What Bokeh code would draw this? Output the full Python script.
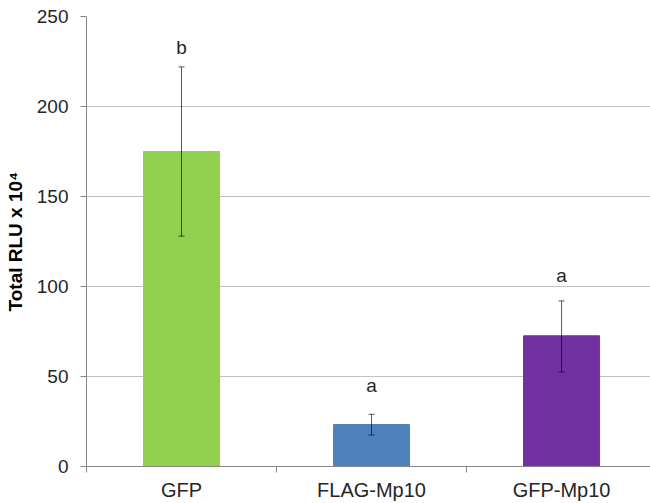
from bokeh.plotting import figure
from bokeh.models import (ColumnDataSource, Range1d, FixedTicker, Whisker, TeeHead)
from bokeh.core.properties import value
from bokeh.embed import file_html
from bokeh.resources import INLINE

# ---- data ----
categories = ["GFP", "FLAG-Mp10", "GFP-Mp10"]
means = [175.0, 23.3, 72.6]
err_upper = [222.0, 29.0, 92.0]
err_lower = [128.0, 17.5, 52.5]
letters = ["b", "a", "a"]
letter_y = [233.0, 45.0, 106.0]
colors = ["#92D050", "#4F81BD", "#7030A0"]
y_ticks = [0, 50, 100, 150, 200, 250]

xs = [i + 0.5 for i in range(len(categories))]
src = ColumnDataSource(dict(x=xs, top=means, upper=err_upper, lower=err_lower,
                            color=colors, letter=letters, ly=letter_y))

FONT = "Liberation Sans"
TXT = "#262626"
AX = "#868686"

p = figure(width=650, height=503, output_backend="svg", toolbar_location=None,
           x_range=Range1d(0, 2.968), y_range=Range1d(0, 250),
           min_border_left=86, min_border_right=0, min_border_top=16,
           min_border_bottom=36)
p.outline_line_color = None
p.background_fill_color = "white"
p.border_fill_color = "white"

p.vbar(x="x", top="top", width=0.4, bottom=0, source=src,
       fill_color="color", line_color="color")

w = Whisker(base="x", upper="upper", lower="lower", source=src,
            line_color="black", line_alpha=0.65, line_width=1, level="overlay",
            upper_head=TeeHead(size=6, line_color="black", line_alpha=0.65),
            lower_head=TeeHead(size=6, line_color="black", line_alpha=0.65))
p.add_layout(w)

p.text(x="x", y="ly", text="letter", source=src, text_font=value(FONT),
       text_font_size="19px", text_color=TXT, text_align="center",
       text_baseline="alphabetic")

# grid
p.xgrid.grid_line_color = None
p.ygrid.grid_line_color = "#C0C0C0"
p.ygrid.ticker = FixedTicker(ticks=y_ticks)

# y axis
ya = p.yaxis[0]
ya.ticker = FixedTicker(ticks=y_ticks)
ya.axis_line_color = AX
ya.major_tick_line_color = AX
ya.major_tick_out = 6
ya.major_tick_in = 0
ya.minor_tick_line_color = None
ya.major_label_standoff = 12
ya.major_label_text_font = FONT
ya.major_label_text_font_size = "19px"
ya.major_label_text_color = TXT
ya.axis_label = "Total RLU x 10⁴"
ya.axis_label_text_font = FONT
ya.axis_label_text_font_style = "bold"
ya.axis_label_text_font_size = "19px"
ya.axis_label_text_color = "black"
ya.axis_label_standoff = 8

# x axis: labels at category centres, tick marks at category boundaries
xa = p.xaxis[0]
xa.ticker = FixedTicker(ticks=xs, minor_ticks=list(range(len(categories) + 1)))
xa.major_label_overrides = {x: c for x, c in zip(xs, categories)}
xa.axis_line_color = AX
xa.major_tick_line_color = None
xa.minor_tick_line_color = AX
xa.minor_tick_out = 6
xa.minor_tick_in = 0
xa.major_label_standoff = 6
xa.major_label_text_font = FONT
xa.major_label_text_font_size = "20px"
xa.major_label_text_color = TXT

open("out.html", "w").write(file_html(p, INLINE))
